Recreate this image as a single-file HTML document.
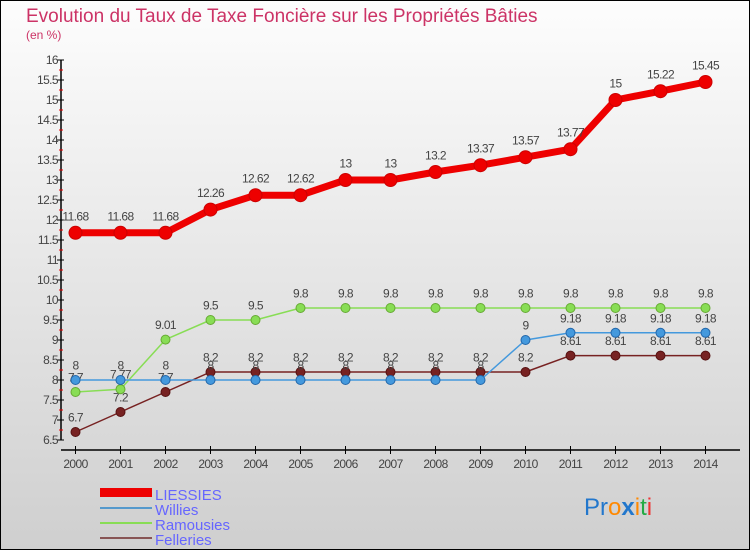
<!DOCTYPE html>
<html><head><meta charset="utf-8"><style>
body{margin:0}
svg text{font-family:"Liberation Sans","DejaVu Sans",sans-serif}
</style></head><body>
<svg id="c" width="750" height="550" xmlns="http://www.w3.org/2000/svg">
<defs><linearGradient id="bg" x1="0" y1="0" x2="0" y2="1"><stop offset="0" stop-color="#fdfdfd"/><stop offset="1" stop-color="#cfcfcf"/></linearGradient></defs>
<rect x="0.5" y="0.5" width="749" height="549" fill="url(#bg)" stroke="#000"/>
<text x="26" y="22" font-size="19" fill="#cc3366">Evolution du Taux de Taxe Foncière sur les Propriétés Bâties</text>
<text x="26" y="39" font-size="12" fill="#cc3366">(en %)</text>
<g id="axes"></g><g id="series"></g>
<g>
<rect x="100" y="488" width="52" height="9" fill="#ee0000"/>
<text x="155" y="500" font-size="15" fill="#6666ff">LIESSIES</text>
<line x1="100" y1="508" x2="152" y2="508" stroke="#5599cc" stroke-width="2"/>
<text x="155" y="515" font-size="15" fill="#6666ff">Willies</text>
<line x1="100" y1="523" x2="152" y2="523" stroke="#88dd55" stroke-width="2"/>
<text x="155" y="530" font-size="15" fill="#6666ff">Ramousies</text>
<line x1="100" y1="538" x2="152" y2="538" stroke="#885555" stroke-width="2"/>
<text x="155" y="545" font-size="15" fill="#6666ff">Felleries</text>
</g>
<g font-size="24">
<text x="584" y="515"><tspan fill="#2277cc">Pr</tspan><tspan fill="#ff8800">o</tspan><tspan fill="#2277cc" font-weight="bold">x</tspan><tspan fill="#ff8800">i</tspan><tspan fill="#22aa44">t</tspan><tspan fill="#ee3333">i</tspan></text>
</g>
</svg>
<script>
const years=[2000,2001,2002,2003,2004,2005,2006,2007,2008,2009,2010,2011,2012,2013,2014];
const yTicks=[6.5,7,7.5,8,8.5,9,9.5,10,10.5,11,11.5,12,12.5,13,13.5,14,14.5,15,15.5,16];
const liessies=[11.68,11.68,11.68,12.26,12.62,12.62,13,13,13.2,13.37,13.57,13.77,15,15.22,15.45];
const willies=[8,8,8,8,8,8,8,8,8,8,9,9.18,9.18,9.18,9.18];
const ramousies=[7.7,7.77,9.01,9.5,9.5,9.8,9.8,9.8,9.8,9.8,9.8,9.8,9.8,9.8,9.8];
const felleries=[6.7,7.2,7.7,8.2,8.2,8.2,8.2,8.2,8.2,8.2,8.2,8.61,8.61,8.61,8.61];
const NS="http://www.w3.org/2000/svg";
const X=i=>75.5+i*45, Y=v=>60+(16-v)*40;
function mk(t,a,p){const e=document.createElementNS(NS,t);for(const k in a)e.setAttribute(k,a[k]);p.appendChild(e);return e;}
const ax=document.getElementById('axes');
let l=mk('line',{x1:61,y1:60,x2:61,y2:440,stroke:'#000','stroke-width':1.5},ax);


l=mk('line',{x1:61,y1:450,x2:740,y2:450,stroke:'#000','stroke-width':1.5},ax);


yTicks.forEach(v=>{
  mk('line',{x1:57,y1:Y(v),x2:64,y2:Y(v),stroke:'#000'},ax);
  if(v<16) mk('line',{x1:59,y1:Y(v+0.25),x2:63,y2:Y(v+0.25),stroke:'#e00'},ax);
  const t=mk('text',{x:58,y:Y(v)+4,'font-size':12,'text-anchor':'end',fill:'#444','letter-spacing':'-0.6'},ax);
  t.textContent=String(v);
  
  
});
years.forEach((y,i)=>{
  mk('line',{x1:X(i),y1:446,x2:X(i),y2:454,stroke:'#000'},ax);
  const t=mk('text',{x:X(i),y:468,'font-size':12,'text-anchor':'middle',fill:'#444','letter-spacing':'-0.6'},ax);
  t.textContent=String(y);
  
  
});
const sg=document.getElementById('series');
function series(name,vals,color,w,r,stroke){
  const g=mk('g',{},sg);
  
  
  const p=mk('polyline',{points:vals.map((v,i)=>X(i)+','+Y(v)).join(' '),fill:'none',stroke:color,'stroke-width':w,'stroke-linejoin':'round'},g);
  
  
  vals.forEach((v,i)=>{
    const c=mk('circle',{cx:X(i),cy:Y(v),r:r,fill:color,stroke:stroke,'stroke-width':1},g);
    
    
    const t=mk('text',{x:X(i),y:Y(v)-(r+6),'font-size':12,'text-anchor':'middle',fill:'#444','letter-spacing':'-0.6'},g);
    t.textContent=String(v);
    
    
  });
}
series('felleries',felleries,'#772222',1.5,4.5,'#551111');
series('ramousies',ramousies,'#88dd55',1.5,4.5,'#66aa33');
series('willies',willies,'#4499dd',1.5,4.5,'#2266aa');
series('liessies',liessies,'#ee0000',7,6.5,'#cc0000');
</script>
</body></html>
